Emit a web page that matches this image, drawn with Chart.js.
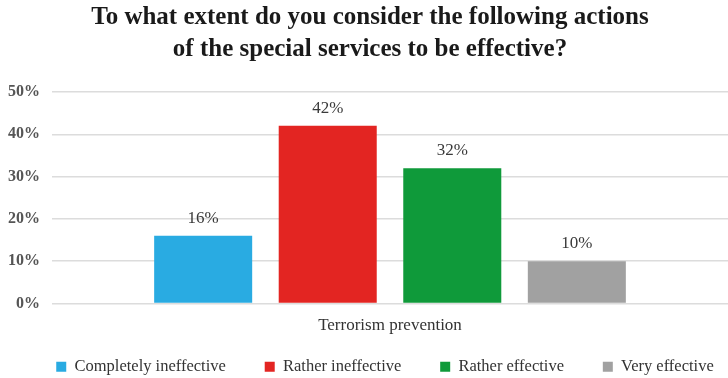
<!DOCTYPE html>
<html>
<head>
<meta charset="utf-8">
<script src="https://cdn.jsdelivr.net/npm/chart.js@4"></script>
<style>
  html, body { margin: 0; padding: 0; background: #fff; }
  #wrap { width: 728px; height: 378px; }
</style>
</head>
<body>
<div id="wrap"><canvas id="chart" width="728" height="378"></canvas></div>
<script>
const categories = ['Terrorism prevention'];
const seriesNames = ['Completely ineffective', 'Rather ineffective', 'Rather effective', 'Very effective'];
const seriesValues = [16, 42, 32, 10];
const seriesColors = ['#29abe2', '#e32522', '#0f9a3a', '#a1a1a1'];
const yTicks = [0, 10, 20, 30, 40, 50];

const serif = "'Liberation Serif', 'Times New Roman', serif";

// value labels above each bar
const barLabels = {
  id: 'barLabels',
  afterDatasetsDraw(chart) {
    const ctx = chart.ctx;
    ctx.save();
    ctx.font = '17px ' + serif;
    ctx.fillStyle = '#3a3a3a';
    ctx.textAlign = 'center';
    ctx.textBaseline = 'alphabetic';
    chart.data.datasets.forEach((ds, i) => {
      chart.getDatasetMeta(i).data.forEach((bar, j) => {
        ctx.fillText(ds.data[j] + '%', bar.x, bar.y - 13);
      });
    });
    ctx.restore();
  }
};

// nudge the legend row and title to sit over the plot rather than the canvas centre
const shiftBoxes = {
  id: 'shiftBoxes',
  beforeDraw(chart) {
    if (chart.legend) {
      chart.legend.left += 21;
      chart.legend.right += 21;
    }
    if (chart.titleBlock) {
      chart.titleBlock.left += 6;
      chart.titleBlock.right += 6;
    }
  }
};

const datasets = seriesNames.map((name, i) => ({
  label: name,
  data: [seriesValues[i]],
  backgroundColor: seriesColors[i],
  borderWidth: 0,
  barPercentage: 0.787,
  categoryPercentage: 0.737
}));

new Chart(document.getElementById('chart'), {
  type: 'bar',
  data: { labels: categories, datasets },
  plugins: [barLabels, shiftBoxes],
  options: {
    responsive: false,
    animation: false,
    layout: { padding: { left: 0, right: 0, top: 2, bottom: -7 } },
    plugins: {
      title: {
        display: true,
        text: ['To what extent do you consider the following actions', 'of the special services to be effective?'],
        color: '#1a1a1a',
        font: { family: serif, size: 25, weight: 'bold', lineHeight: 1.28 },
        padding: { top: 0, bottom: 26 }
      },
      legend: {
        position: 'bottom',
        labels: {
          color: '#333',
          font: { family: serif, size: 16.5 },
          boxWidth: 10,
          boxHeight: 10,
          padding: 10,
          generateLabels(chart) {
            const items = Chart.defaults.plugins.legend.labels.generateLabels(chart);
            items.forEach((it, i) => {
              if (i < items.length - 1) it.text += '       ';
            });
            return items;
          }
        }
      },
      tooltip: { enabled: false }
    },
    scales: {
      x: {
        grid: { display: false },
        border: { display: false },
        ticks: { color: '#333', font: { family: serif, size: 17 }, padding: 4 },
        afterFit(axis) { axis.height = 45; }
      },
      y: {
        min: yTicks[0],
        max: yTicks[yTicks.length - 1],
        afterBuildTicks(axis) { axis.ticks = yTicks.map(v => ({ value: v })); },
        afterFit(axis) { axis.width = 52; },
        grid: { color: '#dcdcdc', lineWidth: 1.5, drawTicks: false },
        border: { display: false },
        ticks: {
          color: '#555',
          font: { family: serif, size: 16, weight: 'bold' },
          padding: 12,
          callback: v => v + '%'
        }
      }
    }
  }
});
</script>
</body>
</html>
